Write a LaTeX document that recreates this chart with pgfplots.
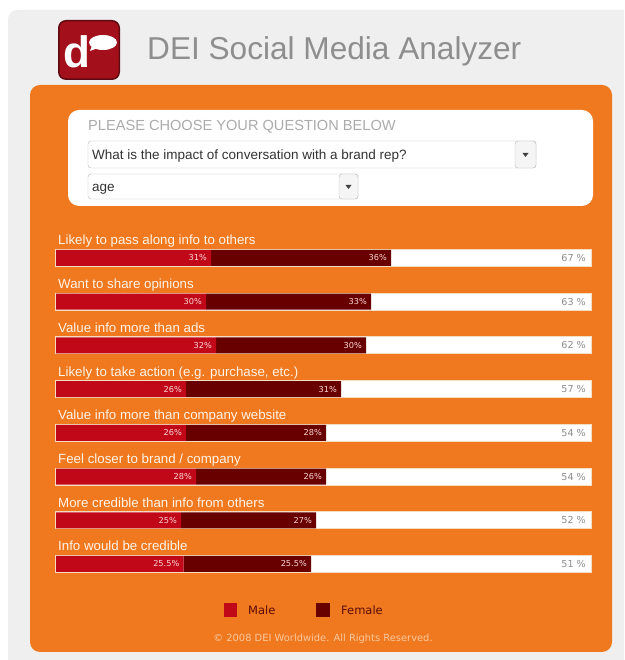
\documentclass[border=0pt]{standalone}
\usepackage{pgfplots}
\pgfplotsset{compat=1.18}
\usepackage{pgfplotstable}
\usepackage{fontspec}
\setmainfont{Liberation Sans}
\newfontfamily\verd{DejaVu Sans}
\definecolor{panelgrey}{HTML}{EFEFEF}
\definecolor{orng}{HTML}{F0781E}
\definecolor{male}{HTML}{C00818}
\definecolor{female}{HTML}{680000}
\definecolor{labeltxt}{HTML}{FFF4E8}
\definecolor{trackborder}{HTML}{F6DCC0}
\definecolor{titlegrey}{HTML}{8E8E8E}
\definecolor{logored}{HTML}{A3101C}
\definecolor{logodark}{HTML}{5E0A10}
\definecolor{valtxt}{HTML}{FAD6D6}
\definecolor{totaltxt}{HTML}{8C8C8C}
\definecolor{legtxt}{HTML}{5A0C0C}
\definecolor{copytxt}{HTML}{F9C9A0}

\pgfplotstableread{
row male female total
1 31 36 67
2 30 33 63
3 32 30 62
4 26 31 57
5 26 28 54
6 28 26 54
7 25 27 52
8 25.5 25.5 51
}\datatable

\begin{document}
\begin{tikzpicture}
\useasboundingbox (0pt,0pt) rectangle (624pt,660pt);
\fill[white] (0pt,0pt) rectangle (624pt,660pt);
\begin{scope}[x=1pt, y=1pt, shift={(0pt,660pt)}, yscale=-1]
  \clip (0,0) rectangle (624,660);
  % grey panel
  \fill[panelgrey, rounded corners=9pt] (8,10) rectangle (650,690);
  % logo
  \fill[logodark, rounded corners=8pt] (58,20) rectangle (120,80);
  \fill[logored, rounded corners=7pt] (59.5,21.5) rectangle (118.5,78.5);
  \node[anchor=base west, white, inner sep=0pt, font=\bfseries\fontsize{44}{44}\selectfont] at (63,68) {d};
  \fill[white] (103,42.5) ellipse (14pt and 7.5pt);
  \fill[white] (90,51) -- (93,43) -- (98,48) -- cycle;
  % title
  \node[anchor=base west, inner sep=0pt, text=titlegrey, font=\fontsize{31.6}{31.6}\selectfont] at (147,60) {DEI Social Media Analyzer};
  % orange panel
  \fill[orng, rounded corners=10pt] (30,85) rectangle (612,652);
  % question box
  \fill[white, rounded corners=11pt] (68,110) rectangle (593,206);
  \node[anchor=base west, inner sep=0pt, text=black!33, font=\fontsize{14.6}{14.6}\selectfont] at (88,131) {PLEASE CHOOSE YOUR QUESTION BELOW};
  % dropdown 1
  \draw[black!28, fill=white, rounded corners=3pt] (88,141) rectangle (536,168);
  \draw[black!28, fill=black!4, rounded corners=3pt] (515,141) rectangle (536,168);
  \fill[black!75] (522.5,153) -- (528.5,153) -- (525.5,157) -- cycle;
  \node[anchor=base west, inner sep=0pt, text=black!80, font=\fontsize{13.5}{13.5}\selectfont] at (92,160) {What is the impact of conversation with a brand rep?};
  % dropdown 2
  \draw[black!28, fill=white, rounded corners=3pt] (88,174) rectangle (358,199);
  \draw[black!28, fill=black!4, rounded corners=3pt] (339,174) rectangle (358,199);
  \fill[black!75] (345.5,185) -- (351.5,185) -- (348.5,189) -- cycle;
  \node[anchor=base west, inner sep=0pt, text=black!80, font=\fontsize{13.5}{13.5}\selectfont] at (92,192) {age};
  % bar tracks
  \foreach \i in {0,...,7} {
    \draw[trackborder, line width=1pt, fill=white] (55.5,249.5+\i*43.7125) rectangle (591,266.5+\i*43.7125);
  }
  % legend
  \fill[male] (224,603) rectangle (237,617);
  \node[anchor=base west, inner sep=0pt, text=legtxt, font=\verd\fontsize{11.5}{11.5}\selectfont] at (248,614.5) {Male};
  \fill[female] (316,603) rectangle (330,617);
  \node[anchor=base west, inner sep=0pt, text=legtxt, font=\verd\fontsize{11.5}{11.5}\selectfont] at (341,615) {Female};
  % copyright
  \node[anchor=base, inner sep=0pt, text=copytxt, font=\verd\fontsize{9.9}{9.9}\selectfont] at (323,642) {\char"00A9\ 2008 DEI Worldwide. All Rights Reserved.};
\end{scope}

\begin{axis}[
  at={(56pt,423.86pt)}, anchor=north west,
  scale only axis, width=535pt, height=349.7pt,
  xmin=0, xmax=107, ymin=0.5, ymax=8.5, y dir=reverse,
  axis lines=none, clip=false,
  xbar stacked, bar width=16pt,
  point meta=explicit symbolic,
  visualization depends on={rawx \as \rawxv},
  nodes near coords={\pgfplotspointmeta\%},
  every node near coord/.append style={anchor=east, xshift={\rawxv*2.5pt-4pt}, text=valtxt, font=\verd\fontsize{8.2}{8.2}\selectfont, inner sep=0pt},
]
\addplot[fill=male, draw=none] table[x=male, y=row, meta=male] {\datatable};
\addplot[fill=female, draw=none] table[x=female, y=row, meta=female] {\datatable};

\tikzset{lbl/.style={anchor=base west, inner sep=0pt, xshift=2pt, yshift=13pt, text=labeltxt, font=\fontsize{13.3}{13.3}\selectfont},
         tot/.style={anchor=east, inner sep=0pt, xshift=-5pt, text=totaltxt, font=\verd\fontsize{9.6}{9.6}\selectfont}}
\node[lbl] at (axis cs:0,1) {Likely to pass along info to others};
\node[lbl] at (axis cs:0,2) {Want to share opinions};
\node[lbl] at (axis cs:0,3) {Value info more than ads};
\node[lbl] at (axis cs:0,4) {Likely to take action (e.g. purchase, etc.)};
\node[lbl] at (axis cs:0,5) {Value info more than company website};
\node[lbl] at (axis cs:0,6) {Feel closer to brand / company};
\node[lbl] at (axis cs:0,7) {More credible than info from others};
\node[lbl] at (axis cs:0,8) {Info would be credible};
\node[tot] at (axis cs:107,1) {67 \%};
\node[tot] at (axis cs:107,2) {63 \%};
\node[tot] at (axis cs:107,3) {62 \%};
\node[tot] at (axis cs:107,4) {57 \%};
\node[tot] at (axis cs:107,5) {54 \%};
\node[tot] at (axis cs:107,6) {54 \%};
\node[tot] at (axis cs:107,7) {52 \%};
\node[tot] at (axis cs:107,8) {51 \%};
\end{axis}
\end{tikzpicture}
\end{document}
